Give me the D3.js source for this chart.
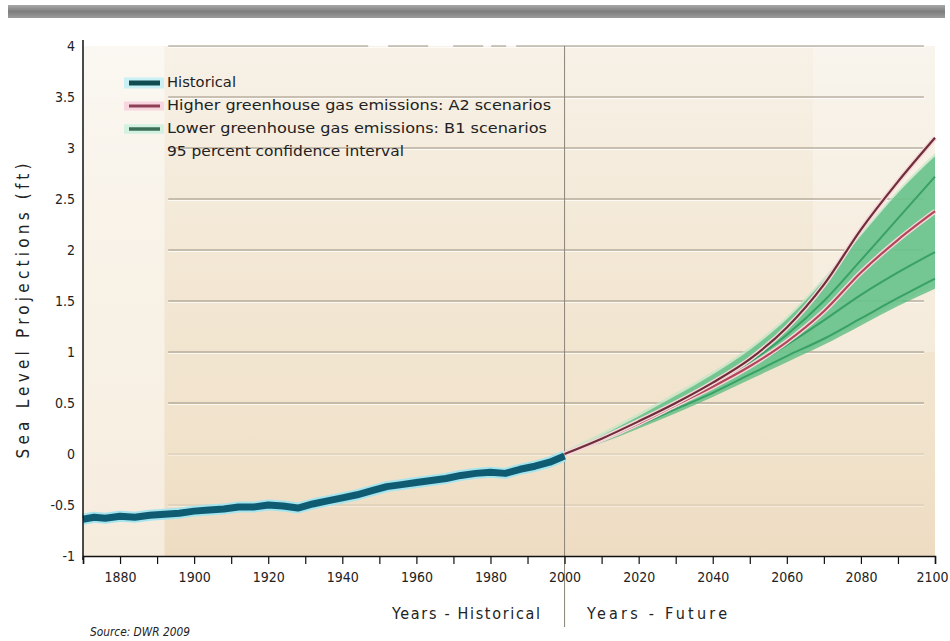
<!DOCTYPE html>
<html>
<head>
<meta charset="utf-8">
<script src="https://cdn.jsdelivr.net/npm/d3@7"></script>
<style>
  html, body { margin: 0; padding: 0; background: #ffffff; }
  svg { display: block; }
  text { font-family: "Liberation Sans Narrow", "Arial Narrow", "DejaVu Sans Condensed", sans-serif; fill: #222; }
</style>
</head>
<body>
<svg id="chart" width="950" height="641"></svg>
<script>
// ---------- data ----------
const histYears  = [1870,1873,1876,1880,1884,1888,1892,1896,1900,1904,1908,1912,1916,1920,1924,1928,1932,1936,1940,1944,1948,1952,1956,1960,1964,1968,1972,1976,1980,1984,1988,1992,1996,2000];
const histValues = [-0.64,-0.62,-0.63,-0.61,-0.62,-0.60,-0.59,-0.58,-0.56,-0.55,-0.54,-0.52,-0.52,-0.50,-0.51,-0.53,-0.49,-0.46,-0.43,-0.40,-0.36,-0.32,-0.30,-0.28,-0.26,-0.24,-0.21,-0.19,-0.18,-0.19,-0.15,-0.12,-0.08,-0.02];

const futureYears = [2000,2010,2020,2030,2040,2050,2060,2070,2080,2090,2100];
const ciLow    = [0,0.11,0.25,0.40,0.56,0.73,0.90,1.07,1.26,1.45,1.62];
const ciHigh   = [0,0.18,0.37,0.57,0.78,1.02,1.32,1.70,2.14,2.56,2.92];
const b1Lower  = [0,0.13,0.28,0.44,0.60,0.78,0.96,1.13,1.33,1.53,1.72];
const b1Mid    = [0,0.14,0.30,0.47,0.65,0.85,1.07,1.31,1.56,1.78,1.98];
const b1Upper  = [0,0.15,0.31,0.49,0.68,0.90,1.17,1.50,1.90,2.31,2.72];
const a2Lower  = [0,0.14,0.30,0.48,0.66,0.86,1.10,1.40,1.78,2.10,2.38];
const a2Upper  = [0,0.15,0.32,0.50,0.70,0.93,1.24,1.66,2.20,2.67,3.10];

const yTicks = [-1,-0.5,0,0.5,1,1.5,2,2.5,3,3.5,4];
const yTickLabels = ["-1","-0.5","0","0.5","1","1.5","2","2.5","3","3.5","4"];
const xLabelYears = [1880,1900,1920,1940,1960,1980,2000,2020,2040,2060,2080,2100];
const xMinorYears = d3.range(1870, 2101, 10);

const legendLabels = ["Historical","Higher greenhouse gas emissions: A2 scenarios","Lower greenhouse gas emissions: B1 scenarios","95 percent confidence interval"];
const legendWidths = [69, 384, 380, 237];

// ---------- layout ----------
const svg = d3.select("#chart");
const x = d3.scaleLinear().domain([1870, 2100]).range([83, 935]);
const y = d3.scaleLinear().domain([-1, 4]).range([556, 46]);

const defs = svg.append("defs");
const bg = defs.append("linearGradient").attr("id","bg").attr("x1",0).attr("y1",0).attr("x2",0).attr("y2",1);
bg.append("stop").attr("offset","0%").attr("stop-color","#f7f1e7");
bg.append("stop").attr("offset","40%").attr("stop-color","#f3e8d5");
bg.append("stop").attr("offset","75%").attr("stop-color","#f1e3cc");
bg.append("stop").attr("offset","100%").attr("stop-color","#eedcc2");
const bar = defs.append("linearGradient").attr("id","bar").attr("x1",0).attr("y1",0).attr("x2",0).attr("y2",1);
bar.append("stop").attr("offset","0%").attr("stop-color","#a8a8a8");
bar.append("stop").attr("offset","50%").attr("stop-color","#7e7e7e");
bar.append("stop").attr("offset","100%").attr("stop-color","#9c9c9c");

// top grey bar
svg.append("rect").attr("x",8).attr("y",5).attr("width",937).attr("height",13).attr("fill","url(#bar)");

// plot background
svg.append("rect").attr("x",x(1870)).attr("y",y(4)).attr("width",x(2100)-x(1870)).attr("height",y(-1)-y(4)).attr("fill","url(#bg)");
svg.append("rect").attr("x",x(1870)).attr("y",y(4)).attr("width",x(1892)-x(1870)).attr("height",y(-1)-y(4)).attr("fill","#ffffff").attr("opacity",0.45);
svg.append("rect").attr("x",x(2067)).attr("y",y(4)).attr("width",x(2100)-x(2067)).attr("height",y(1)-y(4)).attr("fill","#ffffff").attr("opacity",0.25);

// gridlines
const grid = svg.append("g");
yTicks.filter(v => v > -1).forEach(v => {
  const faint = v <= 0;
  grid.append("line").attr("x1",x(1893)).attr("x2",x(2097)).attr("y1",y(v)+1.5).attr("y2",y(v)+1.5)
    .attr("stroke","#ffffff").attr("stroke-width",1).attr("opacity",faint?0.4:0.8);
  grid.append("line").attr("x1",x(1893)).attr("x2",x(2097)).attr("y1",y(v)).attr("y2",y(v))
    .attr("stroke", faint ? "#d6c8b2" : "#9a9080").attr("stroke-width",1.2)
    .attr("stroke-dasharray", v === 4 ? "200,20,40,25,30,8,15,10,2000" : null);
});

// vertical divider at 2000
svg.append("line").attr("x1",x(2000)).attr("x2",x(2000)).attr("y1",y(4)).attr("y2",627)
  .attr("stroke","#8a8478").attr("stroke-width",1);

// confidence band
const areaGen = d3.area().x((d,i)=>x(futureYears[i])).y0((d,i)=>y(ciLow[i])).y1((d,i)=>y(ciHigh[i])).curve(d3.curveMonotoneX);
svg.append("path").datum(futureYears).attr("d",areaGen).attr("fill","#bfe6c6").attr("opacity",0.7)
  .attr("transform","translate(0,-3)");
svg.append("path").datum(futureYears).attr("d",areaGen).attr("fill","#55bb7e").attr("opacity",0.75);

const lineF = arr => d3.line().x((d,i)=>x(futureYears[i])).y((d,i)=>y(arr[i])).curve(d3.curveMonotoneX)(futureYears);

// B1 lines
[b1Lower, b1Mid, b1Upper].forEach(arr => {
  svg.append("path").attr("d",lineF(arr)).attr("fill","none").attr("stroke","#2f9a5e").attr("stroke-width",2).attr("opacity",0.85);
});
// A2 lines
[a2Lower, a2Upper].forEach((arr,k) => {
  svg.append("path").attr("d",lineF(arr)).attr("fill","none").attr("stroke","#f6d6da").attr("stroke-width",5);
  svg.append("path").attr("d",lineF(arr)).attr("fill","none").attr("stroke", k ? "#6e2f38" : "#b0485a").attr("stroke-width",2.2);
});

// historical
const histLine = d3.line().x((d,i)=>x(histYears[i])).y((d,i)=>y(histValues[i]));
svg.append("path").attr("d",histLine(histYears)).attr("fill","none").attr("stroke","#a6e4ee").attr("stroke-width",11).attr("stroke-linejoin","round");
svg.append("path").attr("d",histLine(histYears)).attr("fill","none").attr("stroke","#0f5c72").attr("stroke-width",7).attr("stroke-linejoin","round");

// axes
const yAxis = d3.axisLeft(y).tickValues(yTicks).tickFormat((d,i)=>yTickLabels[i]).tickSize(0).tickPadding(8);
const gy = svg.append("g").attr("transform",`translate(${x(1870)},0)`).call(yAxis);
gy.select(".domain").attr("stroke","#111").attr("stroke-width",1.5).attr("d",`M0,${y(4)-6}V${y(-1)+4}`);
gy.selectAll("text").attr("font-size",14).attr("fill","#333");

const xAxis = d3.axisBottom(x).tickValues(xMinorYears).tickSize(8).tickFormat(d => xLabelYears.includes(d) ? d : "").tickPadding(8);
const gx = svg.append("g").attr("transform",`translate(0,${y(-1)})`).call(xAxis);
gx.select(".domain").attr("stroke","#111").attr("stroke-width",1.5);
gx.selectAll(".tick line").attr("stroke","#111").attr("stroke-width",1.2);
gx.selectAll("text").attr("font-size",14).attr("fill","#333");
// keep the last label inside the picture
gx.selectAll(".tick").filter(d => d === 2100).select("text").attr("text-anchor","end").attr("dx",13);

// axis titles
svg.append("text").attr("transform",`translate(29,${(y(4)+y(-1))/2+10}) rotate(-90)`).attr("text-anchor","middle")
  .attr("font-size",17).attr("textLength",295).attr("lengthAdjust","spacing").attr("fill","#333").text("Sea Level Projections (ft)");
svg.append("text").attr("x",392).attr("y",619).attr("font-size",16).attr("textLength",148).attr("lengthAdjust","spacing").attr("fill","#333").text("Years - Historical");
svg.append("text").attr("x",587).attr("y",619).attr("font-size",16).attr("textLength",140).attr("lengthAdjust","spacing").attr("fill","#333").text("Years - Future");
svg.append("text").attr("x",90).attr("y",636).attr("font-size",12).attr("textLength",100).attr("lengthAdjust","spacingAndGlyphs").attr("fill","#333").attr("font-style","italic").text("Source: DWR 2009");

// legend
const legY = [87, 110, 133, 156];
const swatch = [
  {halo:"#c9f0f4", col:"#0f4d52", w:5},
  {halo:"#f7d6df", col:"#8e3f55", w:3},
  {halo:"#d3f1e0", col:"#3d6e58", w:3.5},
  null
];
legendLabels.forEach((lab,i) => {
  if (swatch[i]) {
    svg.append("line").attr("x1",124).attr("x2",164).attr("y1",legY[i]-4).attr("y2",legY[i]-4).attr("stroke",swatch[i].halo).attr("stroke-width",swatch[i].w+6);
    svg.append("line").attr("x1",129).attr("x2",160).attr("y1",legY[i]-4).attr("y2",legY[i]-4).attr("stroke",swatch[i].col).attr("stroke-width",swatch[i].w);
  }
  svg.append("text").attr("x",167).attr("y",legY[i]).attr("font-size",14).attr("textLength",legendWidths[i]).attr("lengthAdjust","spacingAndGlyphs").attr("fill","#1a1a1a").text(lab);
});
</script>
</body>
</html>
